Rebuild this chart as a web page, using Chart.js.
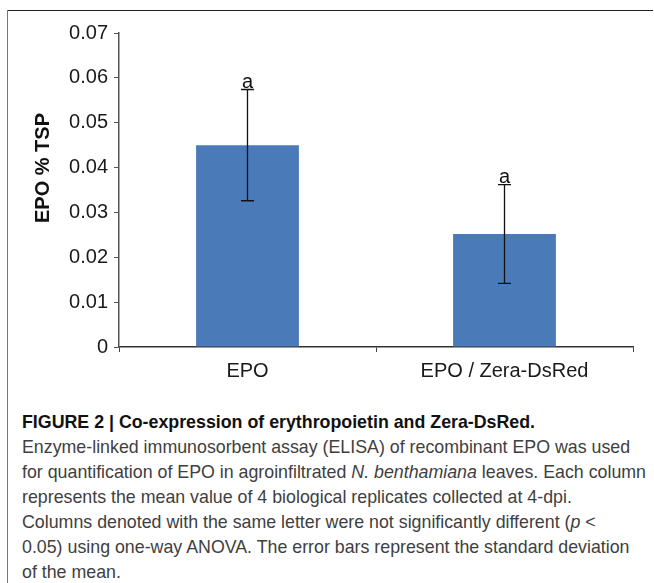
<!DOCTYPE html>
<html lang="en">
<head>
    <meta charset="UTF-8">
    <title>Figure 2</title>

    <style>
        body {
            margin: 0;
            background: #fff;
            width: 654px;
            height: 583px;
            overflow: hidden;
            position: relative;
        }
        #chart {
            position: absolute;
            left: 0;
            top: 0;
        }
        .rule-top {
            position: absolute;
            left: 7px;
            top: 10px;
            width: 646px;
            height: 1px;
            background: #222;
        }
        .rule-left {
            position: absolute;
            left: 7px;
            top: 10px;
            width: 1px;
            height: 573px;
            background: #777;
        }
        .caption {
            position: absolute;
            left: 22px;
            top: 409px;
            font-family: "Liberation Sans Narrow", "Liberation Sans", Arial, sans-serif;
            font-size: 19px;
            line-height: 25px;
            color: #404040;
            white-space: nowrap;
            transform-origin: 0 0;
        }
        .caption span {
            display: block;
        }
        .caption b {
            color: #111;
        }
    </style>
</head>
<body>
    <canvas id="chart" width="654" height="395"></canvas>
    <div class="rule-top"></div>
    <div class="rule-left"></div>

    <div class="caption" id="caption">
        <span><b>FIGURE 2 | Co-expression of erythropoietin and Zera-DsRed.</b></span>
        <span>Enzyme-linked immunosorbent assay (ELISA) of recombinant EPO was used</span>
        <span id="longest">for quantification of EPO in agroinfiltrated <i>N. benthamiana</i> leaves. Each column</span>
        <span>represents the mean value of 4 biological replicates collected at 4-dpi.</span>
        <span>Columns denoted with the same letter were not significantly different (<i>p</i> &lt;</span>
        <span>0.05) using one-way ANOVA. The error bars represent the standard deviation</span>
        <span>of the mean.</span>
    </div>

    <script src="https://cdn.jsdelivr.net/npm/chart.js@4/dist/chart.umd.min.js"></script>
    <script>
        const labels = ['EPO', 'EPO / Zera-DsRed'];
        const means = [0.045, 0.0252];
        const sd = [0.0124, 0.011];
        const letters = ['a', 'a'];
        const yTitle = 'EPO % TSP';

        const font = "'Liberation Sans', Arial, sans-serif";

        // no narrow font here, so squeeze the caption to the original line width
        (function fitCaption() {
            const cap = document.getElementById('caption');
            const line = document.getElementById('longest');
            const range = document.createRange();
            range.selectNodeContents(line);
            const w = range.getBoundingClientRect().width;
            if (w > 0) cap.style.transform = 'scaleX(' + (624 / w) + ')';
        })();

        // error bars + significance letters
        const errorBars = {
            id: 'errorBars',
            afterDatasetsDraw(chart) {
                const ctx = chart.ctx;
                const y = chart.scales.y;
                const meta = chart.getDatasetMeta(0);
                ctx.save();
                ctx.strokeStyle = '#111';
                ctx.lineWidth = 1.3;
                meta.data.forEach((bar, i) => {
                    const x = bar.x;
                    const top = y.getPixelForValue(means[i] + sd[i]);
                    const bot = y.getPixelForValue(means[i] - sd[i]);
                    ctx.beginPath();
                    ctx.moveTo(x, top);
                    ctx.lineTo(x, bot);
                    ctx.moveTo(x - 6.5, top);
                    ctx.lineTo(x + 6.5, top);
                    ctx.moveTo(x - 6.5, bot);
                    ctx.lineTo(x + 6.5, bot);
                    ctx.stroke();

                    ctx.fillStyle = '#111';
                    ctx.font = '20px ' + font;
                    ctx.textAlign = 'center';
                    ctx.textBaseline = 'alphabetic';
                    ctx.fillText(letters[i], x, top - 2);
                });
                ctx.restore();
            }
        };

        // y axis title, sits a bit above the middle like the original
        const yTitlePlugin = {
            id: 'yTitlePlugin',
            afterDraw(chart) {
                const ctx = chart.ctx;
                ctx.save();
                ctx.translate(43, 168);
                ctx.rotate(-Math.PI / 2);
                ctx.font = 'bold 20px ' + font;
                ctx.fillStyle = '#111';
                ctx.textAlign = 'center';
                ctx.textBaseline = 'middle';
                ctx.fillText(yTitle, 0, 0);
                ctx.restore();
            }
        };

        new Chart(document.getElementById('chart'), {
            type: 'bar',
            data: {
                labels: labels,
                datasets: [{
                    data: means,
                    backgroundColor: '#4a7ab7',
                    borderWidth: 0,
                    categoryPercentage: 1,
                    barPercentage: 0.4
                }]
            },
            options: {
                responsive: false,
                animation: false,
                layout: {
                    padding: { top: 33, right: 21, left: 0, bottom: 0 }
                },
                plugins: {
                    legend: { display: false },
                    tooltip: { enabled: false }
                },
                scales: {
                    x: {
                        offset: true,
                        grid: {
                            offset: true,
                            drawOnChartArea: false,
                            drawTicks: true,
                            tickLength: 5,
                            color: '#444'
                        },
                        border: { color: '#333', width: 1.5 },
                        ticks: {
                            color: '#1a1a1a',
                            padding: 7,
                            maxRotation: 0,
                            font: { family: font, size: 20 }
                        },
                        afterFit(scale) { scale.height = 48; }
                    },
                    y: {
                        min: 0,
                        max: 0.07,
                        grid: {
                            drawOnChartArea: false,
                            drawTicks: true,
                            tickLength: 5,
                            color: '#555'
                        },
                        border: { color: '#555', width: 1.5 },
                        ticks: {
                            stepSize: 0.01,
                            color: '#1a1a1a',
                            padding: 6,
                            font: { family: font, size: 20 },
                            callback: v => v === 0 ? '0' : v.toFixed(2)
                        },
                        afterFit(scale) { scale.width = 119; }
                    }
                }
            },
            plugins: [errorBars, yTitlePlugin]
        });
    </script>
</body>
</html>
